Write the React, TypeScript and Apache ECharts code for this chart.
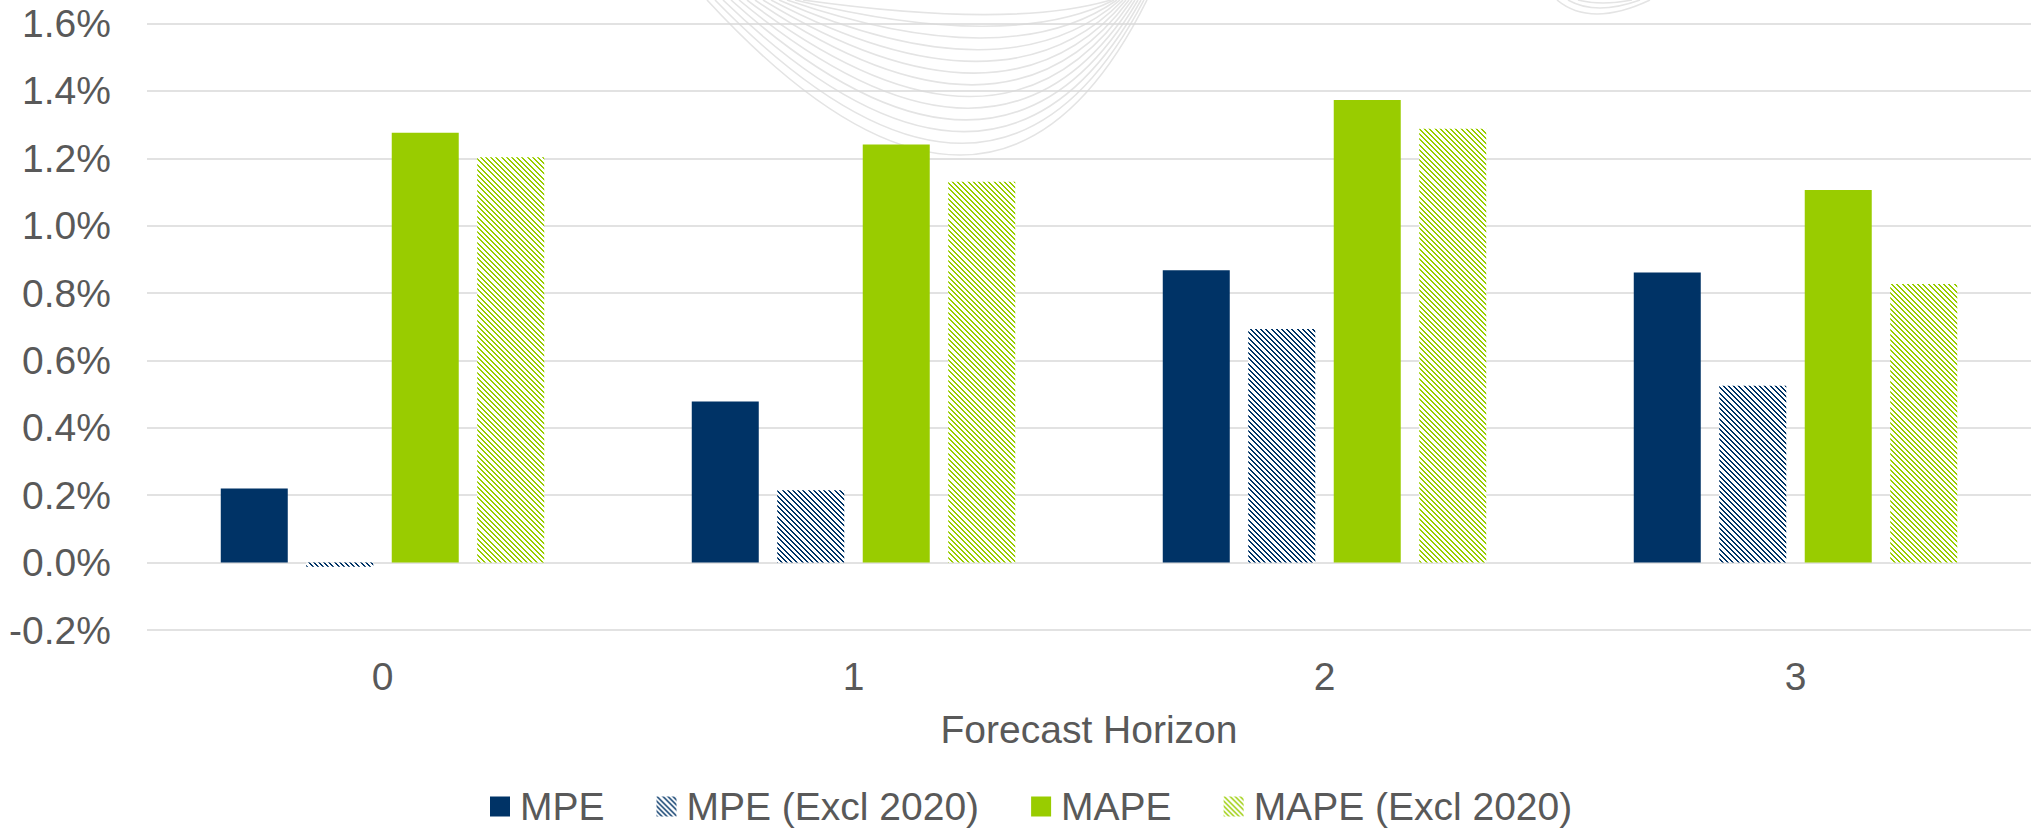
import React, { useEffect, useRef } from "react";
import * as echarts from "echarts";

const categories = ["0", "1", "2", "3"];
const seriesNames = ["MPE", "MPE (Excl 2020)", "MAPE", "MAPE (Excl 2020)"];
const mpe = [0.22, 0.478, 0.868, 0.861];
const mpeExcl = [-0.012, 0.215, 0.693, 0.525];
const mape = [1.276, 1.241, 1.373, 1.106];
const mapeExcl = [1.203, 1.13, 1.288, 0.827];
const yTicks = { min: -0.2, max: 1.6, interval: 0.2 };

const NAVY = "#003366";
const GREEN = "#99CC00";
const TEXT = "#595959";
const FONT = "Liberation Sans, Arial, sans-serif";

function makeHatch(color: string) {
  const size = 26;
  const c = document.createElement("canvas");
  c.width = size;
  c.height = size;
  const ctx = c.getContext("2d")!;
  ctx.fillStyle = "#ffffff";
  ctx.fillRect(0, 0, size, size);
  ctx.fillStyle = color;
  const p = 5.2;
  for (let y = 0; y < size; y++) {
    for (let x = 0; x < size; x++) {
      const d = (((x - y) % p) + p) % p;
      if (d < 2.0) ctx.fillRect(x, y, 1, 1);
    }
  }
  return c;
}

function watermark() {
  const els: any[] = [];
  for (let i = 0; i < 13; i++) {
    const L = 707 + 8 * i;
    const R = 1147 - 3 * i;
    const By = 155 - 11.7 * i;
    const Bx = 960 + 2 * i;
    els.push({
      type: "bezierCurve",
      z: -10,
      silent: true,
      shape: { x1: L, y1: 0, x2: R, y2: 0, cpx1: 2 * Bx - (L + R) / 2, cpy1: 2 * By },
      style: { stroke: "#e4e4e4", lineWidth: 1.6, fill: null },
    });
  }
  const small = [
    [1557, 1650, 1597, 14],
    [1568, 1640, 1600, 8],
    [1578, 1632, 1603, 3],
  ];
  small.forEach(([L, R, Bx, By]) => {
    els.push({
      type: "bezierCurve",
      z: -10,
      silent: true,
      shape: { x1: L, y1: 0, x2: R, y2: 0, cpx1: 2 * Bx - (L + R) / 2, cpy1: 2 * By },
      style: { stroke: "#e4e4e4", lineWidth: 1.6, fill: null },
    });
  });
  return els;
}

export default function App() {
  const ref = useRef<HTMLDivElement>(null);
  useEffect(() => {
    if (!ref.current) return;
    const chart = echarts.init(ref.current, undefined, { renderer: "svg" });
    const navyHatch = { image: makeHatch(NAVY), repeat: "repeat" };
    const greenHatch = { image: makeHatch(GREEN), repeat: "repeat" };
    const colors: any[] = [NAVY, navyHatch, GREEN, greenHatch];
    const datasets = [mpe, mpeExcl, mape, mapeExcl];
    chart.setOption({
      animation: false,
      backgroundColor: "#ffffff",
      textStyle: { fontFamily: FONT },
      graphic: watermark(),
      grid: { left: 147, right: 8, top: 23.5, bottom: 203, containLabel: false },
      legend: {
        left: 485,
        top: 782,
        itemWidth: 20,
        itemHeight: 20,
        itemGap: 52,
        icon: "rect",
        textStyle: { fontSize: 39, color: TEXT, fontFamily: FONT, padding: [0, 0, 0, 5] },
        data: seriesNames,
      },
      xAxis: {
        type: "category",
        data: categories,
        axisLine: { show: false },
        axisTick: { show: false },
        axisLabel: { fontSize: 39, color: TEXT, margin: 27, fontFamily: FONT },
        name: "Forecast Horizon",
        nameLocation: "middle",
        nameGap: 80,
        nameTextStyle: { fontSize: 39, color: TEXT, fontFamily: FONT },
      },
      yAxis: {
        type: "value",
        min: yTicks.min,
        max: yTicks.max,
        interval: yTicks.interval,
        axisLine: { show: false },
        axisTick: { show: false },
        splitLine: { lineStyle: { color: "#d9d9d9", width: 1.5 } },
        axisLabel: {
          fontSize: 39,
          color: TEXT,
          margin: 36,
          fontFamily: FONT,
          formatter: (v: number) => `${v.toFixed(1)}%`,
        },
      },
      series: seriesNames.map((name, i) => ({
        name,
        type: "bar",
        data: datasets[i],
        barWidth: 67,
        barGap: "27.6%",
        itemStyle: { color: colors[i] },
      })),
    });
    return () => chart.dispose();
  }, []);
  return (
    <div
      ref={ref}
      style={{ position: "absolute", left: 0, top: 0, width: 2039, height: 833 }}
    />
  );
}
